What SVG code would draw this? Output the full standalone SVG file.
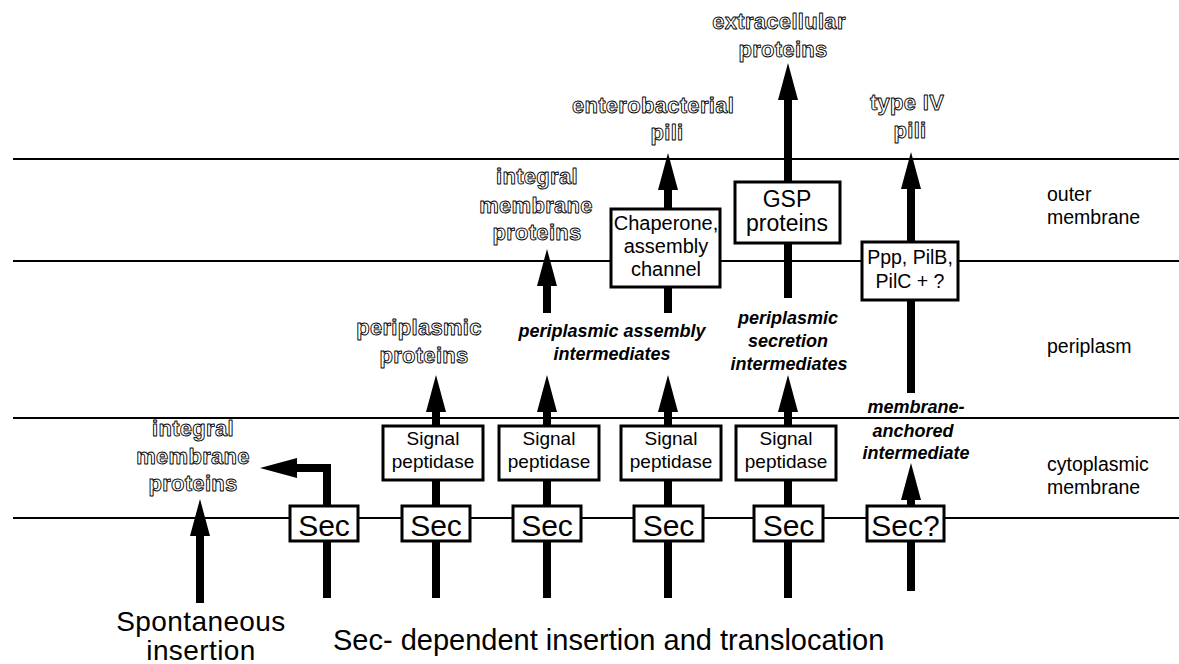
<svg xmlns="http://www.w3.org/2000/svg" width="1179" height="664" viewBox="0 0 1179 664">
<style>
.mem{stroke:#000;stroke-width:2.2;fill:none}
.sh{stroke:#000;stroke-width:8;fill:none;stroke-linejoin:miter}
.box{fill:#fff;stroke:#000;stroke-width:3}
.t{font-family:"Liberation Sans",Arial,sans-serif;fill:#000}
.bx{font-size:19px;text-anchor:middle}
.sec{font-size:30px;text-anchor:middle}
.ol{font-family:"Liberation Sans",Arial,sans-serif;font-weight:bold;font-size:22px;letter-spacing:0.3px;fill:none;stroke:#000;stroke-width:0.9;stroke-linejoin:round;text-anchor:middle}
.it{font-style:italic;font-weight:bold;font-size:18px;text-anchor:middle}
.lab{font-size:19.5px}
.big{font-size:29px}
</style>
<defs>
<marker id="ah" markerUnits="userSpaceOnUse" markerWidth="37" markerHeight="20" viewBox="0 0 37 20" refX="0" refY="10" orient="auto">
<path d="M0,0 L37,10 L0,20 Z" fill="#000"/>
</marker>
</defs>
<rect width="1179" height="664" fill="#fff"/>
<g id="membranes">
<line class="mem" x1="13" y1="159" x2="1179" y2="159"/>
<line class="mem" x1="13" y1="261" x2="1179" y2="261"/>
<line class="mem" x1="13" y1="418" x2="1179" y2="418"/>
<line class="mem" x1="13" y1="518" x2="1179" y2="518"/>
</g>
<g id="connectors">
<line class="sh" x1="200" y1="603" x2="200" y2="536" marker-end="url(#ah)"/>
<polyline class="sh" points="327,598 327,468 297,468" marker-end="url(#ah)"/>
<line class="sh" x1="436" y1="598" x2="436" y2="412" marker-end="url(#ah)"/>
<line class="sh" x1="547" y1="598" x2="547" y2="412" marker-end="url(#ah)"/>
<line class="sh" x1="547" y1="313" x2="547" y2="286" marker-end="url(#ah)"/>
<line class="sh" x1="668" y1="598" x2="668" y2="412" marker-end="url(#ah)"/>
<line class="sh" x1="668" y1="313" x2="668" y2="190" marker-end="url(#ah)"/>
<line class="sh" x1="788" y1="598" x2="788" y2="412" marker-end="url(#ah)"/>
<line class="sh" x1="788" y1="298" x2="788" y2="100" marker-end="url(#ah)"/>
<line class="sh" x1="911" y1="591" x2="911" y2="500" marker-end="url(#ah)"/>
<line class="sh" x1="911" y1="393" x2="911" y2="189" marker-end="url(#ah)"/>
</g>
<g id="sec1"><rect class="box" x="290" y="506" width="68" height="35"/><text class="t sec" x="324" y="536">Sec</text></g>
<g id="sec2"><rect class="box" x="402" y="506" width="68" height="35"/><text class="t sec" x="436" y="536">Sec</text></g>
<g id="sec3"><rect class="box" x="513" y="506" width="68" height="35"/><text class="t sec" x="547" y="536">Sec</text></g>
<g id="sec4"><rect class="box" x="634" y="506" width="69" height="35"/><text class="t sec" x="668.5" y="536">Sec</text></g>
<g id="sec5"><rect class="box" x="754" y="506" width="69" height="35"/><text class="t sec" x="788.5" y="536">Sec</text></g>
<g id="sec6"><rect class="box" x="867" y="506" width="77" height="35"/><text class="t sec" x="905.5" y="536">Sec?</text></g>
<g id="sp1"><rect class="box" x="383" y="426" width="100" height="54"/><text class="t bx" x="433" y="445">Signal</text><text class="t bx" x="433" y="468">peptidase</text></g>
<g id="sp2"><rect class="box" x="499" y="426" width="100" height="54"/><text class="t bx" x="549" y="445">Signal</text><text class="t bx" x="549" y="468">peptidase</text></g>
<g id="sp3"><rect class="box" x="621" y="426" width="100" height="54"/><text class="t bx" x="671" y="445">Signal</text><text class="t bx" x="671" y="468">peptidase</text></g>
<g id="sp4"><rect class="box" x="736" y="426" width="100" height="54"/><text class="t bx" x="786" y="445">Signal</text><text class="t bx" x="786" y="468">peptidase</text></g>
<g id="chaperone"><rect class="box" x="611" y="209" width="109" height="78"/><text class="t" style="font-size:20px" text-anchor="middle" x="666" y="230">Chaperone,</text><text class="t" style="font-size:20px" text-anchor="middle" x="666" y="253">assembly</text><text class="t" style="font-size:20px" text-anchor="middle" x="666" y="276">channel</text></g>
<g id="gsp"><rect class="box" x="735" y="182" width="105" height="61"/><text class="t" style="font-size:23px" text-anchor="middle" x="787" y="207">GSP</text><text class="t" style="font-size:23px" text-anchor="middle" x="787" y="231">proteins</text></g>
<g id="ppp"><rect class="box" x="862" y="242" width="96" height="58"/><text class="t" style="font-size:19.5px" text-anchor="middle" x="910" y="264">Ppp, PilB,</text><text class="t" style="font-size:19.5px" text-anchor="middle" x="910" y="288">PilC + ?</text></g>
<g id="out-labels">
<text class="ol" x="193" y="436">integral</text><text class="ol" x="193" y="464">membrane</text><text class="ol" x="193" y="491">proteins</text>
<text class="ol" x="419" y="335">periplasmic</text><text class="ol" x="424" y="363">proteins</text>
<text class="ol" x="537" y="184">integral</text><text class="ol" x="536" y="213">membrane</text><text class="ol" x="537" y="240">proteins</text>
<text class="ol" x="653" y="113">enterobacterial</text><text class="ol" x="667" y="140">pili</text>
<text class="ol" x="779" y="29">extracellular</text><text class="ol" x="783" y="57">proteins</text>
<text class="ol" x="907" y="110">type IV</text><text class="ol" x="910" y="138">pili</text>
</g>
<g id="it-labels">
<text class="t it" x="612" y="337">periplasmic assembly</text><text class="t it" x="612" y="360">intermediates</text>
<text class="t it" x="788" y="324">periplasmic</text><text class="t it" x="788" y="347">secretion</text><text class="t it" x="789" y="370">intermediates</text>
<text class="t it" x="916" y="413">membrane-</text><text class="t it" x="913" y="437">anchored</text><text class="t it" x="916" y="459">intermediate</text>
</g>
<g id="compartments">
<text class="t lab" x="1047" y="201">outer</text><text class="t lab" x="1047" y="224">membrane</text>
<text class="t lab" x="1047" y="353">periplasm</text>
<text class="t lab" x="1047" y="471">cytoplasmic</text><text class="t lab" x="1047" y="494">membrane</text>
</g>
<g id="captions">
<text class="t" style="font-size:28px;letter-spacing:0.4px" text-anchor="middle" x="201" y="631">Spontaneous</text>
<text class="t" style="font-size:28px;letter-spacing:0.4px" text-anchor="middle" x="201" y="660">insertion</text>
<text class="t big" x="333" y="650">Sec- dependent insertion and translocation</text>
</g>
</svg>
